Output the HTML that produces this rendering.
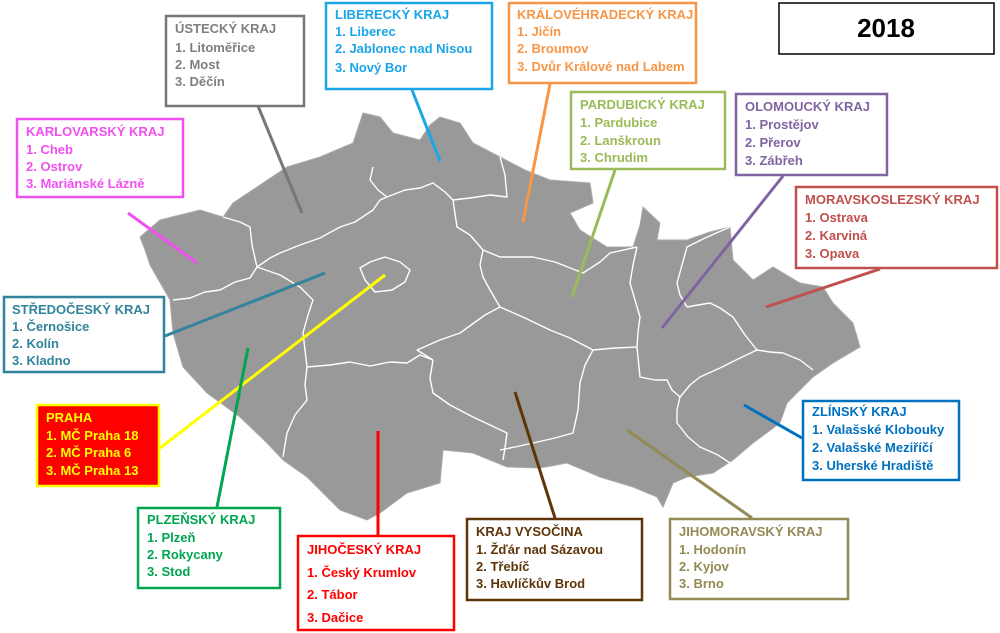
<!DOCTYPE html>
<html><head><meta charset="utf-8"><style>
html,body{margin:0;padding:0;background:#fff;}
svg{display:block;}
text{font-family:"Liberation Sans",Arial,sans-serif;font-weight:bold;font-size:13px;}
</style></head><body>
<svg width="1000" height="633" viewBox="0 0 1000 633" xmlns="http://www.w3.org/2000/svg">
<rect width="1000" height="633" fill="#fff"/>
<!-- map -->
<path fill="#999" stroke="#aaa" stroke-width="1" d="M140,237 L160,220 L200,210 L223,217 L233,203 L257,187 L287,167 L320,157 L353,143 L358,128 L363,113 L380,117 L393,133 L420,140 L430,125 L440,117 L460,123 L473,143 L500,157 L525,170 L550,180 L590,183 L593,203 L570,213 L580,230 L607,247 L633,247 L640,225 L643,207 L660,223 L657,240 L687,240 L710,232 L730,227 L733,260 L753,280 L773,267 L800,283 L823,287 L833,303 L853,323 L860,347 L833,363 L813,377 L787,403 L780,423 L753,443 L733,460 L713,473 L687,477 L673,483 L663,507 L657,497 L633,487 L600,477 L567,463 L540,468 L507,467 L473,453 L443,450 L440,483 L407,493 L380,513 L367,520 L340,510 L307,477 L283,460 L267,443 L240,417 L207,393 L183,367 L173,333 L170,300 L150,265 L145,250 Z"/>
<!-- internal borders -->
<g fill="none" stroke="#fff" stroke-width="1.4" stroke-linejoin="round">
<path d="M173,300 L190,298 L205,292 L220,290 L235,282 L250,278 L257,267"/>
<path d="M223,217 L240,222 L250,227 L252,245 L257,267"/>
<path d="M257,267 L270,258 L280,253 L300,245 L320,238 L340,227 L355,222 L373,210 L380,200 L387,197 L405,190 L420,188 L433,183 L445,192 L453,200"/>
<path d="M373,167 L370,180 L378,190 L387,197"/>
<path d="M500,157 L505,175 L507,197 L490,195 L470,198 L453,200"/>
<path d="M453,200 L457,227 L470,235 L483,250 L480,265 L483,277 L490,290 L500,307"/>
<path d="M500,307 L485,315 L460,333 L440,340 L417,350 L425,355 L433,360"/>
<path d="M307,367 L330,365 L350,362 L370,366 L390,362 L407,363 L420,355 L433,360"/>
<path d="M257,267 L280,275 L300,287 L313,300 L308,315 L303,333 L305,350 L307,367"/>
<path d="M307,367 L305,385 L307,400 L295,415 L287,433 L285,445 L283,457"/>
<path d="M433,360 L430,378 L433,393 L450,405 L473,417 L490,425 L507,433 L505,448 L503,460"/>
<path d="M370,262 L385,257 L400,262 L410,270 L405,282 L392,290 L375,292 L365,280 L360,268 Z"/>
<path d="M483,250 L500,257 L533,257 L555,262 L583,273 L600,262 L610,253 L637,247"/>
<path d="M500,307 L525,318 L550,330 L570,338 L593,350 L615,348 L637,347"/>
<path d="M637,247 L633,265 L630,283 L635,300 L640,317 L638,332 L637,347"/>
<path d="M593,350 L585,365 L580,383 L578,410 L573,433 L555,438 L533,443 L515,447 L500,450"/>
<path d="M637,347 L640,377 L655,380 L667,380 L672,390 L680,397"/>
<path d="M680,397 L677,410 L677,423 L688,437 L700,447 L718,455 L730,463"/>
<path d="M680,397 L690,385 L700,377 L720,368 L740,358 L757,350"/>
<path d="M757,350 L745,335 L733,317 L720,308 L710,303 L698,305 L687,307"/>
<path d="M687,307 L680,295 L677,283 L682,265 L687,247 L705,238 L730,227"/>
<path d="M757,350 L770,352 L783,353 L800,360 L813,370"/>
</g>
<!-- connectors -->
<g stroke-width="3" fill="none">
<line x1="258" y1="106" x2="302" y2="213" stroke="#777"/>
<line x1="412" y1="90" x2="440" y2="161" stroke="#1aa6e8"/>
<line x1="550" y1="84" x2="523" y2="222" stroke="#f79646"/>
<line x1="615" y1="170" x2="572" y2="297" stroke="#9bbb59"/>
<line x1="783" y1="176" x2="662" y2="328" stroke="#8064a2"/>
<line x1="880" y1="269" x2="766" y2="307" stroke="#c0504d"/>
<line x1="128" y1="213" x2="197" y2="263" stroke="#f050f0"/>
<line x1="165" y1="336" x2="325" y2="273" stroke="#31849b"/>
<line x1="160" y1="448" x2="385" y2="275" stroke="#ffff00"/>
<line x1="217" y1="507" x2="248" y2="348" stroke="#00a650"/>
<line x1="378" y1="535" x2="378" y2="431" stroke="#ff0000"/>
<line x1="555" y1="518" x2="515" y2="392" stroke="#5f3409"/>
<line x1="752" y1="518" x2="627" y2="430" stroke="#948a54"/>
<line x1="802" y1="438" x2="744" y2="405" stroke="#0070c0"/>
</g>
<!-- boxes -->
<g stroke-width="2.5">
<rect x="779" y="3" width="215" height="51" fill="#fff" stroke="#000" stroke-width="1.5"/>
<rect x="166" y="16" width="138" height="90" fill="#fff" stroke="#777"/>
<rect x="326" y="3" width="166" height="86" fill="#fff" stroke="#1aa6e8"/>
<rect x="509" y="3" width="187" height="80" fill="#fff" stroke="#f79646"/>
<rect x="571" y="92" width="154" height="77" fill="#fff" stroke="#9bbb59"/>
<rect x="736" y="94" width="151" height="81" fill="#fff" stroke="#8064a2"/>
<rect x="17" y="119" width="166" height="78" fill="#fff" stroke="#f050f0"/>
<rect x="796" y="187" width="201" height="81" fill="#fff" stroke="#c0504d"/>
<rect x="4" y="297" width="160" height="75" fill="#fff" stroke="#31849b"/>
<rect x="37" y="405" width="122" height="81" fill="#ff0000" stroke="#ffff00"/>
<rect x="803" y="401" width="156" height="79" fill="#fff" stroke="#0070c0"/>
<rect x="138" y="508" width="142" height="80" fill="#fff" stroke="#00a650"/>
<rect x="298" y="536" width="156" height="94" fill="#fff" stroke="#ff0000"/>
<rect x="467" y="519" width="175" height="81" fill="#fff" stroke="#5f3409"/>
<rect x="670" y="519" width="178" height="80" fill="#fff" stroke="#948a54"/>
</g>
<text x="886" y="37" text-anchor="middle" style="font-size:26px" fill="#000">2018</text>
<g fill="#7f7f7f"><text x="175" y="33">ÚSTECKÝ KRAJ</text><text x="175" y="52">1. Litoměřice</text><text x="175" y="69">2. Most</text><text x="175" y="86">3. Děčín</text></g>
<g fill="#1aa6e8"><text x="335" y="19">LIBERECKÝ KRAJ</text><text x="335" y="36">1. Liberec</text><text x="335" y="53">2. Jablonec nad Nisou</text><text x="335" y="72">3. Nový Bor</text></g>
<g fill="#f79646"><text x="517" y="19">KRÁLOVÉHRADECKÝ KRAJ</text><text x="517" y="36">1. Jičín</text><text x="517" y="53">2. Broumov</text><text x="517" y="71">3. Dvůr Králové nad Labem</text></g>
<g fill="#9bbb59"><text x="580" y="109">PARDUBICKÝ KRAJ</text><text x="580" y="127">1. Pardubice</text><text x="580" y="145">2. Lanškroun</text><text x="580" y="162">3. Chrudim</text></g>
<g fill="#8064a2"><text x="745" y="111">OLOMOUCKÝ KRAJ</text><text x="745" y="129">1. Prostějov</text><text x="745" y="147">2. Přerov</text><text x="745" y="165">3. Zábřeh</text></g>
<g fill="#f050f0"><text x="26" y="136">KARLOVARSKÝ KRAJ</text><text x="26" y="154">1. Cheb</text><text x="26" y="171">2. Ostrov</text><text x="26" y="188">3. Mariánské Lázně</text></g>
<g fill="#c0504d"><text x="805" y="204">MORAVSKOSLEZSKÝ KRAJ</text><text x="805" y="222">1. Ostrava</text><text x="805" y="240">2. Karviná</text><text x="805" y="258">3. Opava</text></g>
<g fill="#31849b"><text x="12" y="314">STŘEDOČESKÝ KRAJ</text><text x="12" y="331">1. Černošice</text><text x="12" y="348">2. Kolín</text><text x="12" y="365">3. Kladno</text></g>
<g fill="#ffff00"><text x="46" y="422">PRAHA</text><text x="46" y="440">1. MČ Praha 18</text><text x="46" y="457">2. MČ Praha 6</text><text x="46" y="475">3. MČ Praha 13</text></g>
<g fill="#0070c0"><text x="812" y="416">ZLÍNSKÝ KRAJ</text><text x="812" y="434">1. Valašské Klobouky</text><text x="812" y="452">2. Valašské Meziříčí</text><text x="812" y="470">3. Uherské Hradiště</text></g>
<g fill="#00a650"><text x="147" y="524">PLZEŇSKÝ KRAJ</text><text x="147" y="542">1. Plzeň</text><text x="147" y="559">2. Rokycany</text><text x="147" y="576">3. Stod</text></g>
<g fill="#ff0000"><text x="307" y="554">JIHOČESKÝ KRAJ</text><text x="307" y="577">1. Český Krumlov</text><text x="307" y="599">2. Tábor</text><text x="307" y="622">3. Dačice</text></g>
<g fill="#5f3409"><text x="476" y="536">KRAJ VYSOČINA</text><text x="476" y="554">1. Žďár nad Sázavou</text><text x="476" y="571">2. Třebíč</text><text x="476" y="588">3. Havlíčkův Brod</text></g>
<g fill="#948a54"><text x="679" y="536">JIHOMORAVSKÝ KRAJ</text><text x="679" y="554">1. Hodonín</text><text x="679" y="571">2. Kyjov</text><text x="679" y="588">3. Brno</text></g>
</svg>
</body></html>
